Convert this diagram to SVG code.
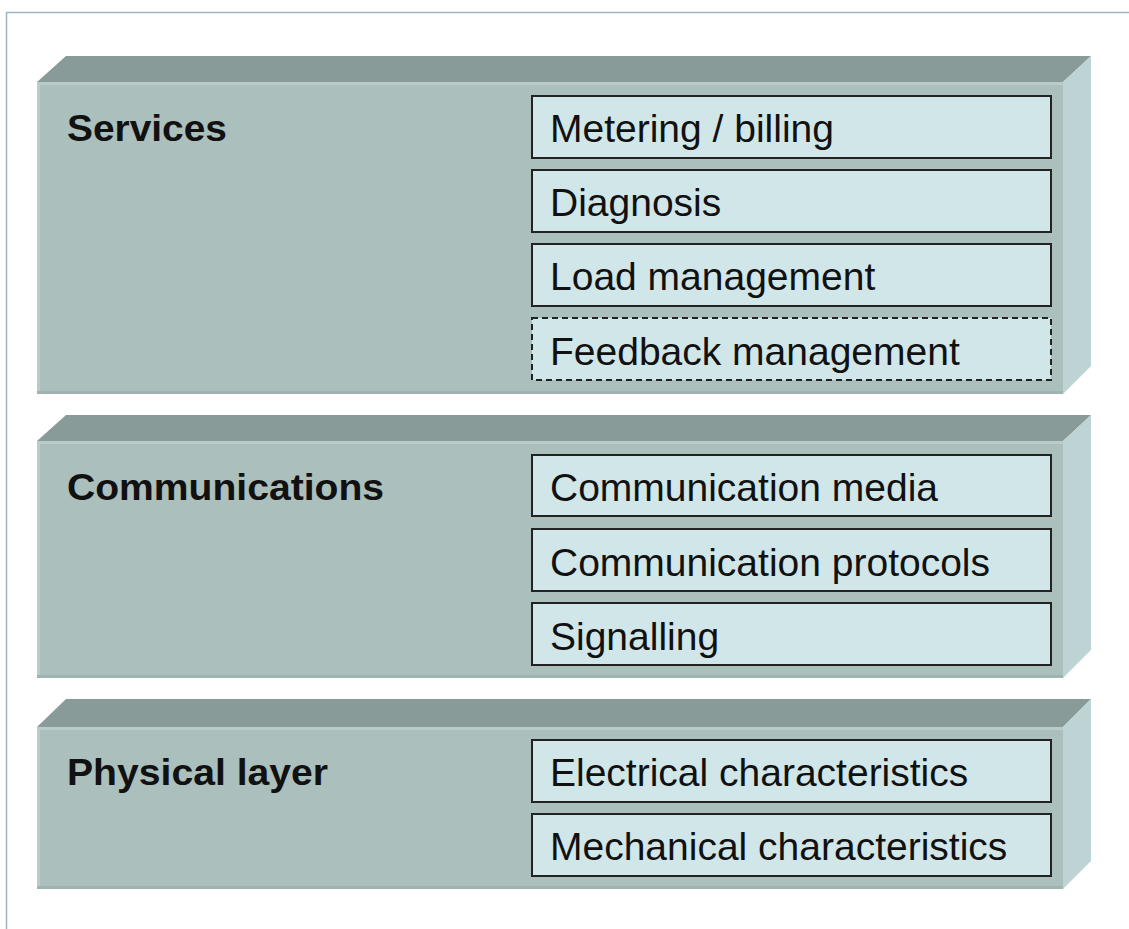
<svg xmlns="http://www.w3.org/2000/svg" width="1129" height="929" viewBox="0 0 1129 929">
<style>
.top{fill:#889b98}
.front{fill:#abbfbd}
.side{fill:#bed3d3}
.edge{fill:#9fb3b1}
.hl{fill:#b9cccb}
.box{fill:#d1e6e8;stroke:#222;stroke-width:2}
.dash{stroke-dasharray:6 4}
.t{font-family:"Liberation Sans",Arial,sans-serif;font-size:39px;fill:#111}
.h{font-family:"Liberation Sans",Arial,sans-serif;font-size:37px;font-weight:bold;fill:#111}
</style>
<rect width="1129" height="929" fill="#fff"/>
<path d="M6.5 929V12.5H1129" fill="none" stroke="#a0b3c2" stroke-width="1.5"/>
<g id="layer-services">
<polygon class="top" points="37,82 66,56 1091,56 1063,82"/>
<polygon class="side" points="1063,82 1091,56 1091,366 1063,394"/>
<rect class="front" x="37" y="82" width="1026" height="312"/>
<rect class="hl" x="37" y="82" width="1026" height="3"/>
<rect class="hl" x="37" y="82" width="3" height="312"/>
<rect class="edge" x="37" y="391" width="1026" height="3"/>
<text class="h" x="67" y="141" textLength="160" lengthAdjust="spacingAndGlyphs">Services</text>
</g>
<g id="box-metering"><rect class="box" x="532" y="96" width="519" height="62"/><text class="t" x="550" y="142">Metering / billing</text></g>
<g id="box-diagnosis"><rect class="box" x="532" y="170" width="519" height="62"/><text class="t" x="550" y="216">Diagnosis</text></g>
<g id="box-load"><rect class="box" x="532" y="244" width="519" height="62"/><text class="t" x="550" y="290">Load management</text></g>
<g id="box-feedback"><rect class="box dash" x="532" y="318" width="519" height="62"/><text class="t" x="550" y="365">Feedback management</text></g>
<g id="layer-communications">
<polygon class="top" points="37,441 66,415 1091,415 1063,441"/>
<polygon class="side" points="1063,441 1091,415 1091,650 1063,678"/>
<rect class="front" x="37" y="441" width="1026" height="237"/>
<rect class="hl" x="37" y="441" width="1026" height="3"/>
<rect class="hl" x="37" y="441" width="3" height="237"/>
<rect class="edge" x="37" y="675" width="1026" height="3"/>
<text class="h" x="67" y="500" textLength="317" lengthAdjust="spacingAndGlyphs">Communications</text>
</g>
<g id="box-media"><rect class="box" x="532" y="455" width="519" height="61"/><text class="t" x="550" y="501">Communication media</text></g>
<g id="box-protocols"><rect class="box" x="532" y="529" width="519" height="62"/><text class="t" x="550" y="576">Communication protocols</text></g>
<g id="box-signalling"><rect class="box" x="532" y="603" width="519" height="62"/><text class="t" x="550" y="650">Signalling</text></g>
<g id="layer-physical">
<polygon class="top" points="37,727 66,699 1091,699 1063,727"/>
<polygon class="side" points="1063,727 1091,699 1091,861 1063,889"/>
<rect class="front" x="37" y="727" width="1026" height="162"/>
<rect class="hl" x="37" y="727" width="1026" height="3"/>
<rect class="hl" x="37" y="727" width="3" height="162"/>
<rect class="edge" x="37" y="886" width="1026" height="3"/>
<text class="h" x="67" y="785" textLength="261" lengthAdjust="spacingAndGlyphs">Physical layer</text>
</g>
<g id="box-electrical"><rect class="box" x="532" y="740" width="519" height="62"/><text class="t" x="550" y="786">Electrical characteristics</text></g>
<g id="box-mechanical"><rect class="box" x="532" y="814" width="519" height="62"/><text class="t" x="550" y="860">Mechanical characteristics</text></g>
<g id="connectors"></g>
</svg>
